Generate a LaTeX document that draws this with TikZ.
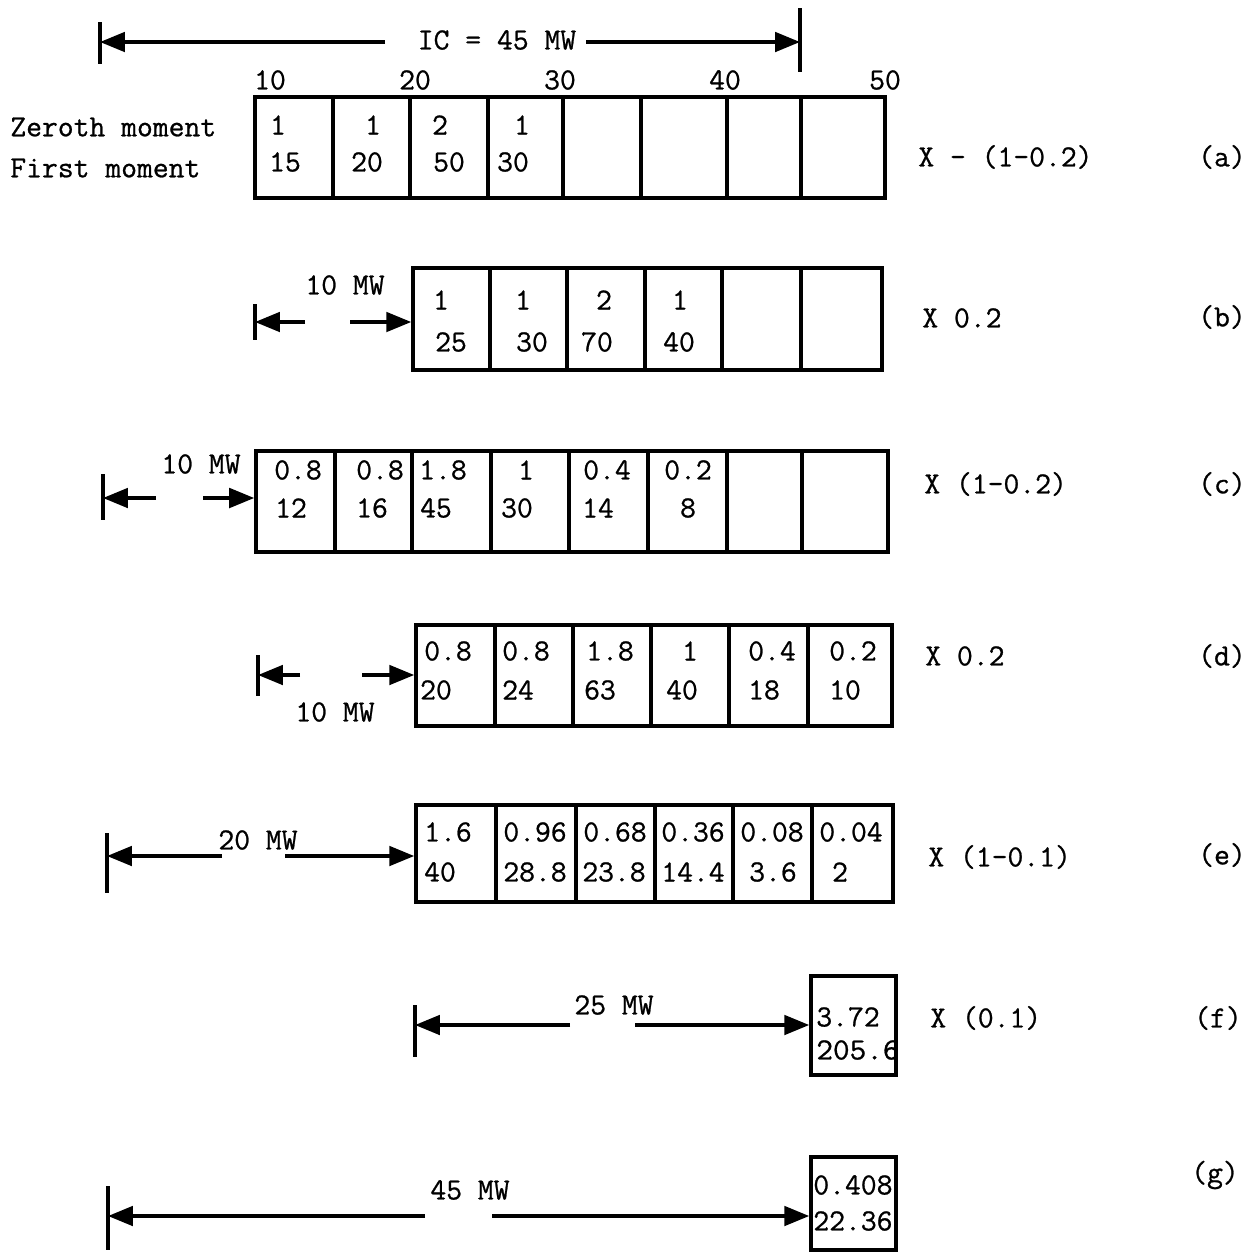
\documentclass[tikz,border=0pt]{standalone}
\usepackage{fontspec}
\setmainfont{Latin Modern Mono}[FakeBold=0.8]
\usetikzlibrary{arrows.meta,fit}

\begin{document}
\begin{tikzpicture}[x=0.02cm, y=-0.02cm,
    font=\fontsize{17.5}{20}\selectfont,
    frame/.style={draw, line width=2pt, inner sep=0pt},
    divider/.style={line width=2pt},
    endbar/.style={line width=2pt},
    dim/.style={-{Triangle[length=5mm,width=3.9mm]}, line width=2pt},
    txt/.style={inner sep=0pt},
    lbl/.style={inner sep=0pt, anchor=west}
  ]
    \useasboundingbox[fill=white] (0,0) rectangle (1255,1259);

    % total capacity and scale
    \node[txt] (ic) at (497,40) {IC = 45 MW};
    \draw[endbar] (100,22) -- (100,64);
    \draw[endbar] (800,8) -- (800,72);
    \coordinate (icBarL) at (100,42);
    \coordinate (icBarR) at (800,42);
    \coordinate (icL) at (385,42);
    \coordinate (icR) at (586,42);
    \draw[dim] (icL) -- (icBarL);
    \draw[dim] (icR) -- (icBarR);
    \foreach \x/\t [count=\i] in {270/10, 415/20, 560/30, 725/40, 885/50}
      \node[txt] (tick\i) at (\x,80) {\t};

    % (a)
    \node[lbl] (zeroth) at (10,127) {Zeroth moment};
    \node[lbl] (first) at (10,168) {First moment};
    \node[frame, fit={(255,97) (885,198)}] (rowA) {};
    \foreach \x in {333,410,488,563,641,727,801}
      \draw[divider] (\x,97) -- (\x,198);
    \foreach \x/\y/\t [count=\i] in {278/125/1, 373/125/1, 440/125/2, 522/125/1,
        285/162/15, 367/162/20, 449/162/50, 513/162/30}
      \node[txt] (a\i) at (\x,\y) {\t};
    \node[lbl] (opA) at (918,157) {X - (1-0.2)};
    \node[txt] (tagA) at (1222,157) {(a)};

    % (b)
    \node[frame, fit={(413,268) (882,370)}] (rowB) {};
    \foreach \x in {490,567,645,722,801}
      \draw[divider] (\x,268) -- (\x,370);
    \foreach \x/\y/\t [count=\i] in {441/300/1, 523/300/1, 604/300/2, 680/300/1,
        451/342/25, 532/342/30, 597/342/70, 679/342/40}
      \node[txt] (b\i) at (\x,\y) {\t};
    \node[txt] (mwB) at (345,285) {10 MW};
    \draw[endbar] (255,304) -- (255,340);
    \coordinate (barB) at (255,322);
    \coordinate (bL) at (305,322);
    \coordinate (bR) at (350,322);
    \draw[dim] (bL) -- (bL -| barB);
    \draw[dim] (bR) -- (bR -| rowB.west);
    \node[lbl] (opB) at (922,318) {X 0.2};
    \node[txt] (tagB) at (1222,317) {(b)};

    % (c)
    \node[frame, fit={(256,451) (888,552)}] (rowC) {};
    \foreach \x in {335,412,491,569,648,727,802}
      \draw[divider] (\x,451) -- (\x,552);
    \foreach \x/\y/\t [count=\i] in {298/470/0.8, 380/470/0.8, 443/470/1.8, 526/470/1,
        607/470/0.4, 688/470/0.2,
        291/508/12, 372/508/16, 436/508/45, 517/508/30, 598/508/14, 688/508/8}
      \node[txt] (c\i) at (\x,\y) {\t};
    \node[txt] (mwC) at (201,464) {10 MW};
    \draw[endbar] (103,474) -- (103,520);
    \coordinate (barC) at (103,498);
    \coordinate (cL) at (156,498);
    \coordinate (cR) at (203,498);
    \draw[dim] (cL) -- (cL -| barC);
    \draw[dim] (cR) -- (cR -| rowC.west);
    \node[lbl] (opC) at (924,484) {X (1-0.2)};
    \node[txt] (tagC) at (1222,484) {(c)};

    % (d)
    \node[frame, fit={(416,625) (892,726)}] (rowD) {};
    \foreach \x in {495,573,651,729,808}
      \draw[divider] (\x,625) -- (\x,726);
    \foreach \x/\y/\t [count=\i] in {448/651/0.8, 526/651/0.8, 610/651/1.8, 690/651/1,
        772/651/0.4, 853/651/0.2,
        436/690/20, 518/690/24, 600/690/63, 682/690/40, 764/690/18, 845/690/10}
      \node[txt] (d\i) at (\x,\y) {\t};
    \node[txt] (mwD) at (335,712) {10 MW};
    \draw[endbar] (258,655) -- (258,696);
    \coordinate (barD) at (258,675);
    \coordinate (dL) at (300,675);
    \coordinate (dR) at (362,675);
    \draw[dim] (dL) -- (dL -| barD);
    \draw[dim] (dR) -- (dR -| rowD.west);
    \node[lbl] (opD) at (925,656) {X 0.2};
    \node[txt] (tagD) at (1222,656) {(d)};

    % (e)
    \node[frame, fit={(416,805) (893,902)}] (rowE) {};
    \foreach \x in {496,576,655,733,812}
      \draw[divider] (\x,805) -- (\x,902);
    \foreach \x/\y/\t [count=\i] in {448/832/1.6, 535/832/0.96, 615/832/0.68, 693/832/0.36,
        772/832/0.08, 851/832/0.04,
        440/872/40, 535/872/28.8, 614/872/23.8, 693/872/14.4, 773/872/3.6, 840/872/2}
      \node[txt] (e\i) at (\x,\y) {\t};
    \node[txt] (mwE) at (258,840) {20 MW};
    \draw[endbar] (107,833) -- (107,893);
    \coordinate (barE) at (107,856);
    \coordinate (eL) at (222,856);
    \coordinate (eR) at (285,856);
    \draw[dim] (eL) -- (eL -| barE);
    \draw[dim] (eR) -- (eR -| rowE.west);
    \node[lbl] (opE) at (928,857) {X (1-0.1)};
    \node[txt] (tagE) at (1222,855) {(e)};

    % (f)
    \node[frame, fit={(811,976) (896,1075)}] (rowF) {};
    \node[txt, anchor=west] (f1) at (816,1017) {3.72};
    \begin{scope}
      \clip (811,976) rectangle (895,1075);
      \node[txt, anchor=west, xscale=1.05] (f2) at (816,1050) {205.6};
    \end{scope}
    \node[txt] (mwF) at (614,1005) {25 MW};
    \draw[endbar] (415,1005) -- (415,1057);
    \coordinate (barF) at (415,1025);
    \coordinate (fL) at (570,1025);
    \coordinate (fR) at (635,1025);
    \draw[dim] (fL) -- (fL -| barF);
    \draw[dim] (fR) -- (fR -| rowF.west);
    \node[lbl] (opF) at (930,1018) {X (0.1)};
    \node[txt] (tagF) at (1218,1018) {(f)};

    % (g)
    \node[frame, fit={(811,1157) (896,1250)}] (rowG) {};
    \node[txt, anchor=west] (g1) at (813,1185) {0.408};
    \node[txt, anchor=west] (g2) at (813,1221) {22.36};
    \node[txt] (mwG) at (470,1190) {45 MW};
    \draw[endbar] (108,1186) -- (108,1250);
    \coordinate (barG) at (108,1216);
    \coordinate (gL) at (425,1216);
    \coordinate (gR) at (492,1216);
    \draw[dim] (gL) -- (gL -| barG);
    \draw[dim] (gR) -- (gR -| rowG.west);
    \node[txt] (tagG) at (1215,1175) {(g)};
  \end{tikzpicture}
\end{document}
